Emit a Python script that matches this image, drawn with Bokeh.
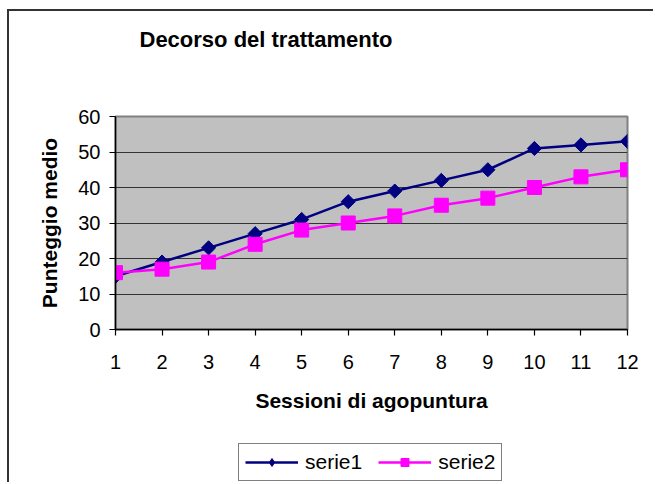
import math
from bokeh.plotting import figure
from bokeh.layouts import column
from bokeh.models import Range1d, FixedTicker, Legend, LegendItem, Title
from bokeh.embed import file_html
from bokeh.resources import INLINE

sessions = [1, 2, 3, 4, 5, 6, 7, 8, 9, 10, 11, 12]
serie1 = [15, 19, 23, 27, 31, 36, 39, 42, 45, 51, 52, 53]
serie2 = [16, 17, 19, 24, 28, 30, 32, 35, 37, 40, 43, 45]
y_ticks = [0, 10, 20, 30, 40, 50, 60]

FONT = "Liberation Sans"
NAVY = "#000080"
MAGENTA = "#FF00FF"

p = figure(width=644, height=428, output_backend="svg", toolbar_location=None,
           x_range=Range1d(1, 12), y_range=Range1d(0, 60),
           min_border_left=106, min_border_right=26, min_border_top=105, min_border_bottom=110)

p.background_fill_color = "#C0C0C0"
p.border_fill_color = "white"
p.outline_line_color = "#808080"
p.outline_line_width = 2

# main title (placed outermost), spacer title between it and the frame
p.title.text = "Decorso del trattamento"
p.title.text_font = FONT
p.title.text_font_size = "22px"
p.title.text_font_style = "bold"
p.title.text_color = "black"
p.title.align = "left"
p.title.offset = 24
p.title.standoff = 2
p.add_layout(Title(text=".", text_font_size="20px", text_color="white", standoff=48), "above")

# axes
p.xaxis.ticker = FixedTicker(ticks=sessions)
p.yaxis.ticker = FixedTicker(ticks=y_ticks)
for ax in (p.xaxis[0], p.yaxis[0]):
    ax.axis_line_color = "black"
    ax.axis_line_width = 1.5
    ax.major_tick_line_color = "black"
    ax.major_tick_line_width = 1.2
    ax.major_tick_out = 6
    ax.major_tick_in = 0
    ax.minor_tick_line_color = None
    ax.major_label_text_font = FONT
    ax.major_label_text_font_size = "20px"
    ax.major_label_text_color = "black"
    ax.axis_label_text_font = FONT
    ax.axis_label_text_font_size = "21px"
    ax.axis_label_text_font_style = "bold"
    ax.axis_label_text_color = "black"
p.xaxis.axis_label = "Sessioni di agopuntura"
p.yaxis.axis_label = "Punteggio medio"
p.xaxis.major_label_standoff = 19
p.xaxis.axis_label_standoff = 17
p.yaxis.major_label_standoff = 9
p.yaxis.axis_label_standoff = 14

p.xgrid.grid_line_color = None
p.ygrid.grid_line_color = "#333333"
p.ygrid.grid_line_width = 1.2

p.line(sessions, serie1, line_color=NAVY, line_width=2.5)
p.scatter(sessions, serie1, marker="square", size=10, angle=math.pi / 4,
          fill_color=NAVY, line_color=NAVY)
p.line(sessions, serie2, line_color=MAGENTA, line_width=2.5)
p.scatter(sessions, serie2, marker="square", size=14, fill_color=MAGENTA, line_color=MAGENTA)

# legend strip below the chart (its data lies outside its view, only the legend shows)
lg = figure(width=644, height=43, output_backend="svg", toolbar_location=None,
            x_range=Range1d(-2, -1), y_range=Range1d(-2, -1),
            x_axis_type=None, y_axis_type=None,
            min_border_left=0, min_border_right=0, min_border_top=0, min_border_bottom=0)
lg.outline_line_color = None
lg.background_fill_color = "white"
lg.border_fill_color = "white"
ll1 = lg.line(sessions, serie1, line_color=NAVY, line_width=2.5)
lm1 = lg.scatter(sessions, serie1, marker="diamond", size=13, fill_color=NAVY, line_color=NAVY)
ll2 = lg.line(sessions, serie2, line_color=MAGENTA, line_width=2.5)
lm2 = lg.scatter(sessions, serie2, marker="square", size=14, fill_color=MAGENTA, line_color=MAGENTA)

legend = Legend(items=[LegendItem(label="serie1", renderers=[ll1, lm1]),
                       LegendItem(label="serie2", renderers=[ll2, lm2])],
                orientation="horizontal", location=(123, 1),
                label_text_font=FONT, label_text_font_size="21px", label_text_color="black",
                glyph_width=53, glyph_height=20, label_standoff=7, spacing=16,
                padding=6, margin=0, border_line_color="black", border_line_width=1,
                background_fill_color="white", background_fill_alpha=1.0)
lg.add_layout(legend, "center")

layout = column(p, lg, spacing=0)
layout.styles = {"margin-left": "7px", "margin-top": "9px",
                 "border-left": "2px solid #333333", "border-top": "2px solid #333333"}

open("out.html", "w").write(file_html(layout, INLINE))
